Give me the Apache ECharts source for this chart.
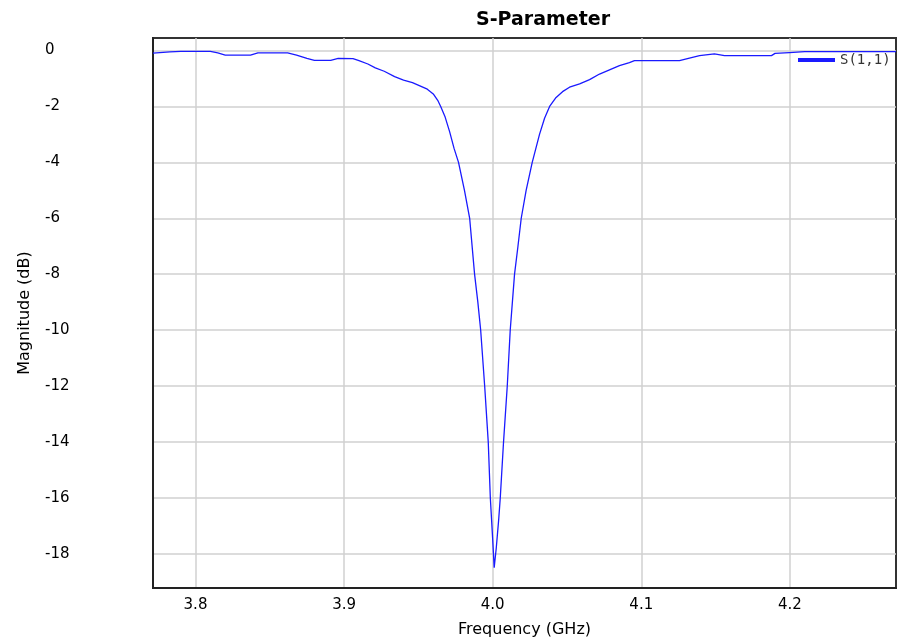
<!DOCTYPE html>
<html>
<head>
<meta charset="utf-8">
<script src="https://cdn.jsdelivr.net/npm/echarts@6/dist/echarts.min.js"></script>
<style>
  html, body { margin: 0; padding: 0; background: #fff; }
  #chart { width: 903px; height: 638px; }
</style>
</head>
<body>
<div id="chart"></div>
<script>
// frequency (GHz) and |S11| (dB)
const freq = [
  3.7714, 3.7828, 3.7900, 3.8100, 3.8150, 3.8200, 3.8370, 3.8420, 3.8620, 3.8680,
  3.8750, 3.8800, 3.8910, 3.8960, 3.9060, 3.9100, 3.9160, 3.9210, 3.9270, 3.9340,
  3.9400, 3.9460, 3.9510, 3.9560, 3.9600, 3.9630, 3.9650, 3.9680, 3.9710, 3.9740,
  3.9770, 3.9810, 3.9845, 3.9878, 3.9900, 3.9919, 3.9946, 3.9970, 3.9984, 4.0000,
  4.0010, 4.0024, 4.0040, 4.0051, 4.0073, 4.0098, 4.0118, 4.0147, 4.0170, 4.0192,
  4.0225, 4.0266, 4.0315, 4.0349, 4.0383, 4.0423, 4.0470, 4.0517, 4.0585, 4.0652,
  4.0719, 4.0786, 4.0853, 4.0920, 4.0954, 4.1257, 4.1324, 4.1392, 4.1492, 4.1560,
  4.1876, 4.1900, 4.1997, 4.2100, 4.2714
];
const s11 = [
  -0.09, -0.05, -0.03, -0.03, -0.08, -0.16, -0.16, -0.08, -0.08, -0.16,
  -0.28, -0.35, -0.35, -0.28, -0.29, -0.36, -0.48, -0.62, -0.74, -0.93,
  -1.06, -1.15, -1.26, -1.38, -1.55, -1.78, -2.0, -2.38, -2.9, -3.5,
  -4.0, -5.0, -6.0, -8.0, -9.0, -10.0, -12.0, -14.0, -16.0, -17.5,
  -18.5, -17.8, -16.8, -16.0, -14.0, -12.0, -10.0, -8.0, -7.0, -6.0,
  -5.0, -4.0, -3.0, -2.42, -2.0, -1.7, -1.47, -1.31, -1.19, -1.04,
  -0.84, -0.69, -0.54, -0.43, -0.36, -0.36, -0.27, -0.18, -0.12, -0.18,
  -0.18, -0.10, -0.07, -0.04, -0.04
];

const font = "DejaVu Sans";
const chart = echarts.init(document.getElementById("chart"));

chart.setOption({
  animation: false,
  backgroundColor: "#fff",
  title: {
    text: "S-Parameter",
    left: 538,
    top: 6,
    textAlign: "center",
    textStyle: { fontFamily: font, fontSize: 19, fontWeight: "bold", color: "#000" }
  },
  legend: {
    left: 793,
    top: 48,
    icon: "rect",
    itemWidth: 37,
    itemHeight: 4,
    itemGap: 5,
    textStyle: { fontFamily: "DejaVu Sans Mono", fontSize: 14, color: "#333" },
    data: ["S(1,1)"]
  },
  grid: {
    left: 153,
    right: 7,
    top: 38,
    bottom: 50,
    outerBoundsMode: "none",
    containLabel: false,
    show: true,
    borderColor: "#333",
    borderWidth: 2
  },
  xAxis: {
    type: "value",
    min: 3.7714,
    max: 4.2714,
    splitNumber: 5,
    name: "Frequency (GHz)",
    nameLocation: "middle",
    nameGap: 34,
    nameTextStyle: { fontFamily: font, fontSize: 16, color: "#000" },
    axisLine: { onZero: false, lineStyle: { color: "#222", width: 2 } },
    axisTick: { show: false },
    axisLabel: {
      showMinLabel: false,
      showMaxLabel: false,
      margin: 10,
      fontFamily: font,
      fontSize: 15,
      color: "#000",
      formatter: v => v.toFixed(1)
    },
    splitLine: {
      showMinLine: false,
      showMaxLine: false,
      lineStyle: { color: "#d0d0d0", width: 1.5 }
    }
  },
  yAxis: {
    type: "value",
    min: -19.23,
    max: 0.45,
    splitNumber: 10,
    name: "Magnitude (dB)",
    nameLocation: "middle",
    nameGap: 120,
    nameTextStyle: { fontFamily: font, fontSize: 16, color: "#000" },
    axisLine: { show: true, onZero: false, lineStyle: { color: "#222", width: 2 } },
    axisTick: { show: false },
    axisLabel: {
      showMinLabel: false,
      showMaxLabel: false,
      align: "left",
      margin: 108,
      fontFamily: font,
      fontSize: 15,
      color: "#000"
    },
    splitLine: {
      showMinLine: false,
      showMaxLine: false,
      lineStyle: { color: "#d0d0d0", width: 1.5 }
    }
  },
  series: [
    {
      name: "S(1,1)",
      type: "line",
      data: freq.map((f, i) => [f, s11[i]]),
      showSymbol: false,
      smooth: false,
      color: "#1a1aff",
      lineStyle: { color: "#1a1aff", width: 1.3 }
    }
  ]
});
</script>
</body>
</html>
